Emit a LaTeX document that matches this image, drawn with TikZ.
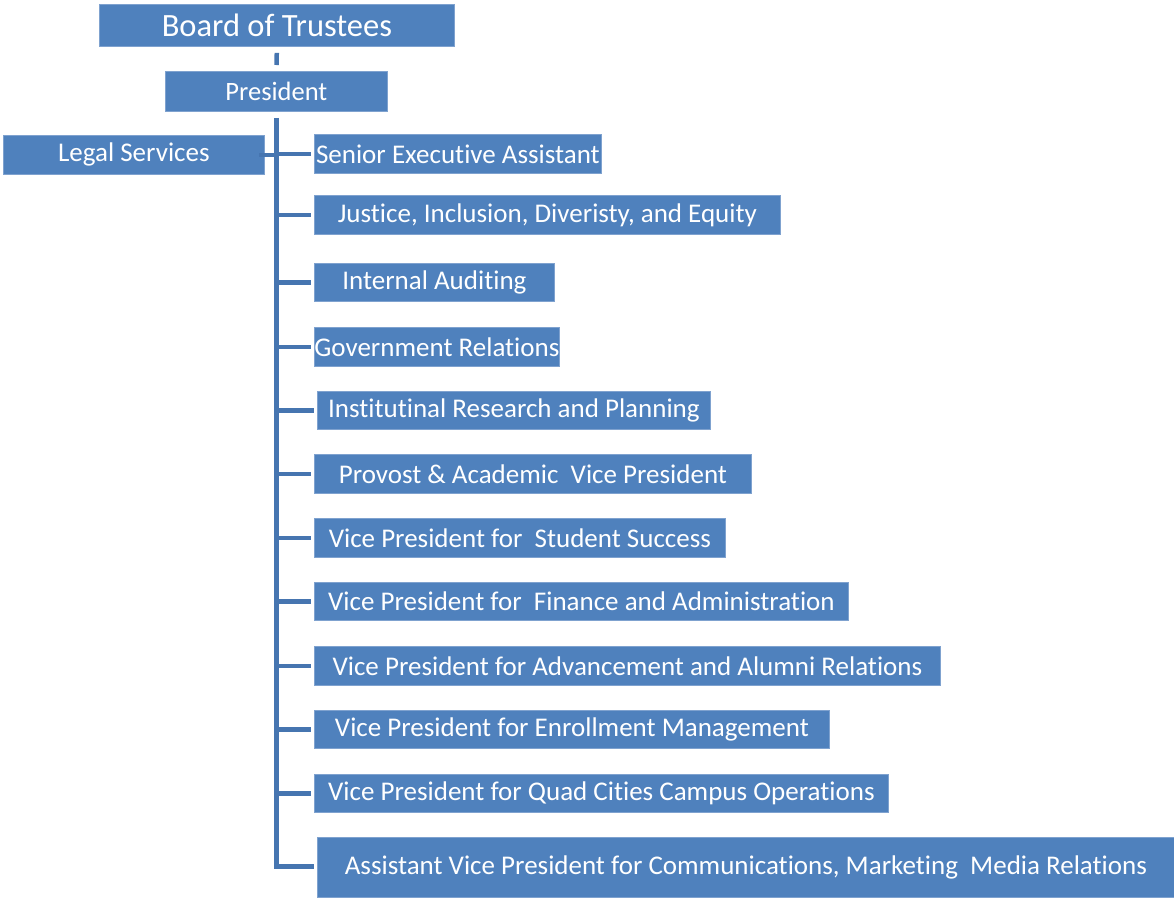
\documentclass[tikz,border=0pt]{standalone}
\usepackage{fontspec}
\setmainfont{Carlito}[Ligatures=NoCommon]
\definecolor{boxfill}{HTML}{4F81BD}
\definecolor{boxedge}{HTML}{7FA2CF}
\definecolor{linecol}{HTML}{4675B0}
\begin{document}
\begin{tikzpicture}[x=1pt,y=-1pt,
  unit/.style={draw=boxedge,line width=0.8pt,fill=boxfill,text=white,inner sep=0pt,anchor=north west,font=\fontsize{27}{31}\selectfont},
  conn/.style={draw=linecol,line width=4.5pt},
  stub/.style={conn,shorten >=3pt}]
\useasboundingbox (0,0) rectangle (1174,897);
% top of the chart
\node[unit,minimum width=355pt,minimum height=42pt,font=\fontsize{32.5}{37}\selectfont] (board) at (99,4) {Board of Trustees};
\node[unit,minimum width=222pt,minimum height=40pt,font=\fontsize{26.5}{30}\selectfont] (pres) at (165,71) {President};
\node[unit,minimum width=261pt,minimum height=39pt] (legal) at (3,135) {Legal Services};
% offices reporting to the president
\node[unit,minimum width=287pt,minimum height=39pt] (sea) at (314,134) {Senior Executive Assistant};
\node[unit,minimum width=466pt,minimum height=39pt] (jide) at (314,195) {Justice, Inclusion, Diveristy, and Equity};
\node[unit,minimum width=240pt,minimum height=38pt] (audit) at (314,263) {Internal Auditing};
\node[unit,minimum width=245pt,minimum height=39pt] (gov) at (314,327) {Government Relations};
\node[unit,minimum width=393pt,minimum height=38pt] (irp) at (317,391) {Institutinal Research and Planning};
\node[unit,minimum width=437pt,minimum height=39pt] (prov) at (314,454) {Provost \& Academic\ \ Vice President};
\node[unit,minimum width=411pt,minimum height=39pt] (ss) at (314,518) {Vice President for\ \ Student Success};
\node[unit,minimum width=534pt,minimum height=38pt] (fin) at (314,582) {Vice President for\ \ Finance and Administration};
\node[unit,minimum width=626pt,minimum height=39pt] (adv) at (314,646) {Vice President for Advancement and Alumni Relations};
\node[unit,minimum width=515pt,minimum height=38pt] (enr) at (314,710) {Vice President for Enrollment Management};
\node[unit,minimum width=574pt,minimum height=38pt] (quad) at (314,774) {Vice President for Quad Cities Campus Operations};
\node[unit,minimum width=857pt,minimum height=60pt] (avp) at (317,837) {Assistant Vice President for Communications, Marketing\ \ Media Relations};
% connectors
\draw[conn,shorten <=6pt,shorten >=6pt] (board.south) -- (pres.north);
\draw[conn,shorten <=6pt,shorten >=3pt] (pres.south) |- ([yshift=1pt]avp.west);
\draw[conn,shorten >=-6pt] (pres.south |- legal.east) -- (legal.east);
\foreach \n in {sea,jide,audit,gov,irp,prov,ss,fin,adv,enr,quad}
  \draw[stub] (pres.south |- \n.west) -- (\n.west);
\end{tikzpicture}
\end{document}
